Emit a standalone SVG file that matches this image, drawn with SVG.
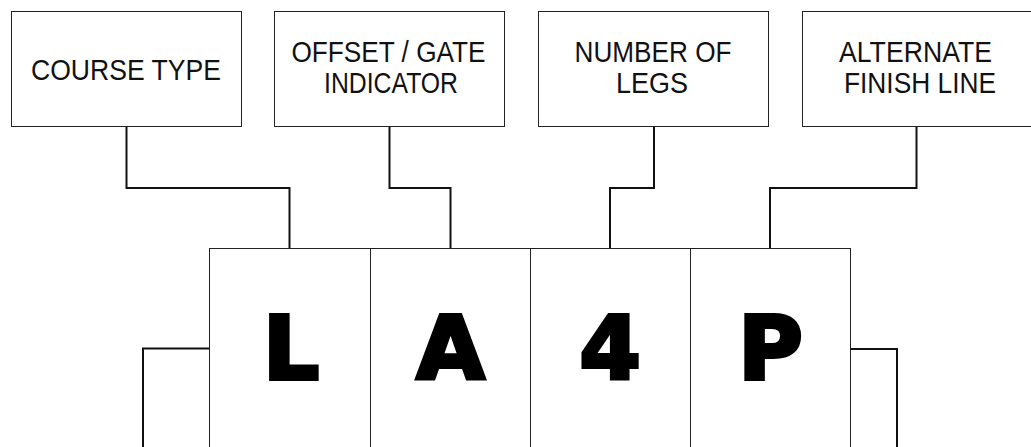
<svg xmlns="http://www.w3.org/2000/svg" width="1031" height="447" viewBox="0 0 1031 447">
<style>
.box{fill:#fff;stroke:#222;stroke-width:1}
.lbl{font-family:"Liberation Sans",Arial,sans-serif;font-size:30px;fill:#111;text-anchor:middle}
.big{font-family:"DejaVu Sans",sans-serif;font-weight:bold;font-size:88px;fill:#000;stroke:#000;stroke-width:4;stroke-linejoin:miter;text-anchor:middle}
.con{fill:none;stroke:#111;stroke-width:2}
</style>
<rect width="1031" height="447" fill="#fff"/>
<g id="connectors">
<path class="con" d="M126.5,127 V188 H289.5 V248"/>
<path class="con" d="M389.5,127 V188 H450.5 V248"/>
<path class="con" d="M654,127 V188 H610 V248"/>
<path class="con" d="M916.5,127 V188 H770 V248"/>
<path class="con" d="M209,348.5 H143 V447"/>
<path class="con" d="M851,349 H897 V447"/>
</g>
<g id="course-type">
<rect class="box" x="11.5" y="11.5" width="230" height="115"/>
<text class="lbl" x="126" y="79.5" textLength="190" lengthAdjust="spacingAndGlyphs">COURSE TYPE</text>
</g>
<g id="offset-gate">
<rect class="box" x="274.5" y="11.5" width="230" height="115"/>
<text class="lbl" x="388.5" y="62" textLength="194" lengthAdjust="spacingAndGlyphs">OFFSET / GATE</text>
<text class="lbl" x="391" y="92.5" textLength="134" lengthAdjust="spacingAndGlyphs">INDICATOR</text>
</g>
<g id="number-of-legs">
<rect class="box" x="538.5" y="11.5" width="230" height="115"/>
<text class="lbl" x="653" y="62" textLength="157" lengthAdjust="spacingAndGlyphs">NUMBER OF</text>
<text class="lbl" x="652" y="92.5" textLength="72" lengthAdjust="spacingAndGlyphs">LEGS</text>
</g>
<g id="alternate-finish">
<rect class="box" x="802.5" y="11.5" width="230" height="115"/>
<text class="lbl" x="915.5" y="62" textLength="153" lengthAdjust="spacingAndGlyphs">ALTERNATE</text>
<text class="lbl" x="920" y="92.5" textLength="152" lengthAdjust="spacingAndGlyphs">FINISH LINE</text>
</g>
<g id="cell-L">
<rect class="box" x="209.5" y="248.5" width="161" height="220"/>
<text class="big" x="291" y="379">L</text>
</g>
<g id="cell-A">
<rect class="box" x="370.5" y="248.5" width="160" height="220"/>
<text class="big" x="450.5" y="379">A</text>
</g>
<g id="cell-4">
<rect class="box" x="530.5" y="248.5" width="160" height="220"/>
<text class="big" x="610" y="379">4</text>
</g>
<g id="cell-P">
<rect class="box" x="690.5" y="248.5" width="160" height="220"/>
<text class="big" x="770.5" y="379">P</text>
</g>
</svg>
